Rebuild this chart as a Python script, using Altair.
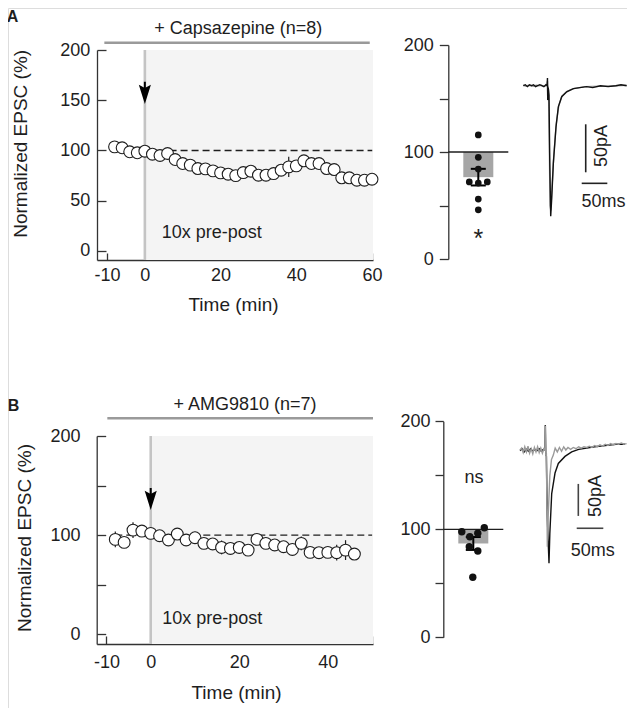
import altair as alt
import pandas as pd
import numpy as np

W, H = 619, 700

# ---------------- data ----------------
# Panel A: time course (+ Capsazepine)
time_a = [-8, -6, -4, -2, 0, 2, 4, 6, 8, 10, 12, 14, 16, 18, 20, 22, 24, 26, 28, 30,
          32, 34, 36, 38, 40, 42, 44, 46, 48, 50, 52, 54, 56, 58, 60]
epsc_a = [103.6, 102.7, 98.7, 97.7, 99.3, 96.3, 95.0, 97.0, 91.0, 87.0, 85.4, 82.0,
          81.7, 79.7, 77.7, 76.4, 75.0, 78.0, 79.4, 75.4, 75.4, 77.0, 80.4, 83.7,
          84.7, 89.7, 87.0, 87.0, 82.0, 81.0, 72.8, 72.8, 70.4, 70.4, 71.4]
sem_a = [3, 3, 3, 3, 2, 3, 3, 3, 3, 3, 3, 3, 3, 3, 3, 3, 3, 3, 3, 3,
         3, 3, 4, 10, 4, 4, 3, 3, 3, 3, 3, 3, 3, 3, 3]

# Panel B: time course (+ AMG9810)
time_b = [-8, -6, -4, -2, 0, 2, 4, 6, 8, 10, 12, 14, 16, 18, 20, 22, 24, 26, 28, 30,
          32, 34, 36, 38, 40, 42, 44, 46]
epsc_b = [95.6, 92.6, 105.0, 104.0, 101.7, 99.3, 95.0, 101.0, 95.0, 97.3, 91.6, 91.0,
          87.5, 86.5, 87.5, 84.8, 95.6, 91.6, 90.0, 88.2, 85.5, 91.6, 82.5, 82.2,
          82.5, 82.2, 84.8, 80.8]
sem_b = [8, 4, 8, 4, 3, 3, 3, 4, 3, 6, 3, 3, 7, 3, 3, 3, 4, 4, 4, 3,
         3, 7, 3, 3, 3, 8, 10, 3]

# Summary dots (individual cells) and their horizontal jitter
cells_a = [116, 95, 84, 72, 71, 72, 56, 46]
jitter_a = [3.0, 3.0, 3.0, 2.1, 3.0, 3.9, 3.0, 3.0]
cells_b = [97.8, 101.5, 96.3, 93.1, 83.9, 79.9, 55.6]
jitter_b = [1.85, 4.1, 3.45, 2.65, 2.6, 3.45, 2.95]

# Example EPSC traces (time in ms, current in pA)
tr_a_gray_t = [0, 5, 10, 15, 20, 25, 30, 35, 40, 45, 47, 47.5, 48, 49, 50.5, 52, 53.5, 56,
               59, 64, 69, 75, 85, 98, 120, 150, 180, 201]
tr_a_gray_i = [0.5, -0.5, 0.5, 0, -0.5, 0.5, 0, 0.5, -0.5, 0, 5, -10, 0, -5, -60, -125, -130,
               -105, -75, -40, -21, -11, -6, -3, -1, -0.5, 0, 0.5]
tr_a_black_t = [0, 4, 8, 12, 16, 20, 24, 28, 32, 36, 40, 44, 46.5, 47, 47.5, 48.5, 50, 51.5,
                53.3, 55, 58.4, 63.6, 68.1, 74.7, 84.4, 97.3, 110, 123, 135, 150, 165, 180,
                190, 201]
tr_a_black_i = [0, 1, -1, 1, 0, 1, -1, 0, 1, 0, -1, 1, 0, 8, -15, -2, -10, -80, -136, -120,
                -81, -43, -22, -11.5, -6.3, -3, -2, -1, -2, 0, -1, 0, 1, 0]

tr_b_black_t = [0, 4, 8, 12, 16, 20, 24, 28, 32, 36, 40, 44, 47, 47.5, 48.3, 49.5, 51, 54.4,
                56, 59.5, 65.7, 71.9, 84.4, 97, 110, 125, 140, 160, 180, 197]
tr_b_black_i = [-1, 2, -3, 1, -2, 2, -2, 1, -1, 2, -2, 1, 0, 39, -5, -10, -100, -177, -130,
                -68, -36, -21, -10, -3, 1, 3, 5, 7, 9, 9]
tr_b_gray_t = [0, 3, 6, 9, 12, 15, 18, 21, 24, 27, 30, 33, 36, 39, 42, 45, 47, 47.6, 48.4,
               49.5, 50.5, 51.3, 53, 56, 59, 62.5, 66, 70, 74, 78, 82, 86, 90, 95, 100, 105,
               110, 115, 120, 125, 130, 135, 140, 145, 150, 155, 160, 165, 170, 175, 180,
               185, 190, 195, 200]
tr_b_gray_i = [0, 3, -4, 5, -3, 6, -5, 2, -6, 4, -3, 5, -4, 3, -5, 2, 0, 38, -8, -5, -90,
               -151, -100, -40, -15, -8, 3, -3, 4, -2, 5, 0, 4, 1, 4, 2, 5, 3, 5, 4, 6, 4,
               7, 5, 8, 6, 9, 7, 10, 8, 10, 9, 11, 9, 10]

FONT = "Liberation Sans"
INK = "#1e1e1e"


def sc(dom, rng):
    return alt.Scale(domain=dom, range=rng, nice=False, zero=False)


def X(field, s, axis=None):
    return alt.X(f"{field}:Q", scale=s, axis=axis)


def Y(field, s, axis=None):
    return alt.Y(f"{field}:Q", scale=s, axis=axis)


def df(**kw):
    return pd.DataFrame(kw)


def text_layer(s_x, s_y, x, y, txt, **mk):
    d = df(x=[x], y=[y], t=[txt])
    return alt.Chart(d).mark_text(font=FONT, color=INK, **mk).encode(
        x=X("x", s_x), y=Y("y", s_y), text="t:N")


ARROW = "M0,1L-0.55,-0.75L0,-0.45L0.55,-0.75Z"

layers = []


def time_panel(times, vals, sems, xs, ys, x_end, ymin, arrow_top, arrow_ctr,
               xaxis, yaxis, title, title_xy, bar_line, letter_xy, letter, label_xy):
    d = df(t=times, v=vals, lo=np.array(vals) - np.array(sems), hi=np.array(vals) + np.array(sems))
    out = []
    out.append(alt.Chart(df(x=[0], x2=[x_end], y=[ymin], y2=[200])).mark_rect(color="#f4f4f4").encode(
        x=X("x", xs), x2="x2:Q", y=Y("y", ys), y2="y2:Q"))
    out.append(alt.Chart(df(x=[0], y=[ymin], y2=[200])).mark_rule(color="#c4c4c4", strokeWidth=2.6).encode(
        x=X("x", xs), y=Y("y", ys), y2="y2:Q"))
    out.append(alt.Chart(df(x=[times[0]], x2=[x_end - 0.2], y=[100])).mark_rule(
        color=INK, strokeWidth=1.3, strokeDash=[7, 4]).encode(x=X("x", xs), x2="x2:Q", y=Y("y", ys)))
    out.append(alt.Chart(d).mark_rule(color=INK, strokeWidth=1.2).encode(
        x=X("t", xs), y=Y("lo", ys), y2="hi:Q"))
    out.append(alt.Chart(d).mark_circle(size=140, fill="white", stroke=INK, strokeWidth=1.1,
                                        opacity=1, fillOpacity=1).encode(
        x=X("t", xs, xaxis), y=Y("v", ys, yaxis)))
    out.append(alt.Chart(df(x=[0], y=[arrow_ctr], y2=[arrow_top])).mark_rule(color="black", strokeWidth=2).encode(
        x=X("x", xs), y=Y("y", ys), y2="y2:Q"))
    out.append(alt.Chart(df(x=[0], y=[arrow_ctr])).mark_point(shape=ARROW, filled=True, color="black",
                                                              size=484, opacity=1).encode(
        x=X("x", xs), y=Y("y", ys)))
    out.append(text_layer(xs, ys, label_xy[0], label_xy[1], "10x pre-post", fontSize=18,
                          align="left", baseline="alphabetic"))
    out.append(text_layer(xs, ys, title_xy[0], title_xy[1], title, fontSize=18,
                          align="center", baseline="alphabetic"))
    out.append(alt.Chart(df(x=[bar_line[0]], x2=[bar_line[1]], y=[bar_line[2]])).mark_rule(
        color="#9a9a9a", strokeWidth=2.6).encode(x=X("x", xs), x2="x2:Q", y=Y("y", ys)))
    out.append(text_layer(xs, ys, letter_xy[0], letter_xy[1], letter, fontSize=16, fontWeight="bold",
                          align="center", baseline="alphabetic"))
    return out


def axis_common(**kw):
    base = dict(grid=False, labelFontSize=18, labelColor=INK, labelFont=FONT,
                domainColor="#333333", tickColor="#333333", domainWidth=1.3, tickWidth=1.3,
                labelOverlap=False, labelFlush=False, titleFontSize=19, titleFont=FONT,
                titleFontWeight="normal", titleColor=INK)
    base.update(kw)
    return alt.Axis(**base)


# ---------------- Panel A: time course ----------------
XA = sc([-12.64, 60.26], [89, 365])
YA = sc([-9, 200], [252, 42])
ax_a_x = axis_common(orient="top", offset=-252, values=list(range(-10, 61, 10)), tickSize=7,
                     labelPadding=-13.7, labelBaseline="top", labelAlign="center",
                     labelExpr="datum.value == -10 ? '-10' : (datum.value % 20 == 0 ? '' + datum.value : '')",
                     title="Time (min)", titleX=225, titleY=35.7, titleBaseline="top",
                     titleAlign="center", titleAngle=0)
ax_a_y = axis_common(orient="right", offset=89 - W, values=[0, 50, 100, 150, 200], tickSize=9,
                     labelPadding=-16.3, labelAlign="right", labelBaseline="middle",
                     title="Normalized EPSC (%)", titleAngle=270, titleX=-77, titleY=135.3,
                     titleAlign="center", titleBaseline="middle")
layers += time_panel(time_a, epsc_a, sem_a, XA, YA, 60.26, -9, 168.4, 157.2, ax_a_x, ax_a_y,
                     "+ Capsazepine (n=8)", (24.68, 216.4), (-10.7, 59.4, 207.2),
                     (-34.96, 228.0), "A", (4.45, 13.0))

# ---------------- Panel B: time course ----------------
XB = sc([-12.2, 50.2], [88.7, 365])
YB = sc([-10, 200], [636, 428])
ax_b_x = axis_common(orient="top", offset=-636, values=list(range(-10, 51, 10)), tickSize=8,
                     labelPadding=-17.7, labelBaseline="top", labelAlign="center",
                     labelExpr="datum.value == -10 ? '-10' : (datum.value % 20 == 0 ? '' + datum.value : '')",
                     title="Time (min)", titleX=228, titleY=39.7, titleBaseline="top",
                     titleAlign="center", titleAngle=0)
ax_b_y = axis_common(orient="right", offset=88.7 - W, values=[0, 50, 100, 150, 200], tickSize=9,
                     labelPadding=-25.7, labelAlign="right", labelBaseline="middle",
                     labelExpr="datum.value % 100 == 0 ? datum.label : ''",
                     title="Normalized EPSC (%)", titleAngle=270, titleX=-72.2, titleY=529.5,
                     titleAlign="center", titleBaseline="middle")
layers += time_panel(time_b, epsc_b, sem_b, XB, YB, 50.2, -10, 147.5, 136.4, ax_b_x, ax_b_y,
                     "+ AMG9810 (n=7)", (21.3, 226.7), (-9.8, 50.2, 217.9),
                     (-30.98, 225.2), "B", (2.59, 10.6))


# ---------------- Summary bar panels ----------------
def bar_panel(cells, jit, xs, ys, yaxis, mark_txt, mark_xy, mark_size, dot_size):
    vals = np.array(cells, dtype=float)
    m = float(vals.mean())
    se = float(vals.std(ddof=1) / np.sqrt(len(vals)))
    out = []
    out.append(alt.Chart(df(x=[3.0], m=[m], b=[100])).mark_bar(size=30, color="#a6a6a6").encode(
        x=X("x", xs), y=Y("m", ys), y2="b:Q"))
    out.append(alt.Chart(df(x=[0], x2=[6], y=[100])).mark_rule(color=INK, strokeWidth=1.3).encode(
        x=X("x", xs), x2="x2:Q", y=Y("y", ys)))
    out.append(alt.Chart(df(x=[3.0], lo=[m - se], hi=[m + se])).mark_rule(color="black", strokeWidth=2).encode(
        x=X("x", xs), y=Y("lo", ys), y2="hi:Q"))
    out.append(alt.Chart(df(x=[3.0, 3.0], y=[m - se, m + se])).mark_tick(
        orient="horizontal", size=15, thickness=2, color="black", opacity=1).encode(
        x=X("x", xs), y=Y("y", ys)))
    out.append(alt.Chart(df(x=jit, v=cells)).mark_circle(size=dot_size, color="#111111", opacity=1).encode(
        x=X("x", xs), y=Y("v", ys, yaxis)))
    out.append(text_layer(xs, ys, mark_xy[0], mark_xy[1], mark_txt, fontSize=mark_size,
                          align="center", baseline="alphabetic"))
    return out


XBA = sc([0, 6], [440.3, 500.3])
YBA = sc([0, 200], [251, 37])
ax_ba = axis_common(orient="left", offset=-440.3, values=[0, 50, 100, 150, 200], tickSize=9,
                    labelPadding=6, labelExpr="datum.value % 100 == 0 ? datum.label : ''", title=None)
layers += bar_panel(cells_a, jitter_a, XBA, YBA, ax_ba, "*", (3.0, 11.5), 25, 45)

XBB = sc([0, 6], [435.3, 495.3])
YBB = sc([0, 200], [629.3, 413.3])
ax_bb = axis_common(orient="left", offset=-435.3, values=[0, 50, 100, 150, 200], tickSize=8.3,
                    labelPadding=5, labelExpr="datum.value % 100 == 0 ? datum.label : ''", title=None)
layers += bar_panel(cells_b, jitter_b, XBB, YBB, ax_bb, "ns", (3.07, 143.1), 18, 55)


# ---------------- Example traces ----------------
def trace_panel(first, second, xs, ys, vbar, hbar, pa_xy, ms_xy, bar_color):
    out = []
    for (t, i, col) in (first, second):
        out.append(alt.Chart(df(t=t, i=i)).mark_line(color=col, strokeWidth=1.4).encode(
            x=X("t", xs), y=Y("i", ys)))
    out.append(alt.Chart(df(x=[vbar[0]], y=[vbar[1]], y2=[vbar[2]])).mark_rule(
        color=bar_color, strokeWidth=1.6).encode(x=X("x", xs), y=Y("y", ys), y2="y2:Q"))
    out.append(alt.Chart(df(x=[hbar[0]], x2=[hbar[1]], y=[hbar[2]])).mark_rule(
        color=bar_color, strokeWidth=1.6).encode(x=X("x", xs), x2="x2:Q", y=Y("y", ys)))
    out.append(text_layer(xs, ys, pa_xy[0], pa_xy[1], "50pA", fontSize=18, angle=270,
                          align="center", baseline="middle"))
    out.append(text_layer(xs, ys, ms_xy[0], ms_xy[1], "50ms", fontSize=18,
                          align="center", baseline="middle"))
    return out


XTA = sc([0, 205], [515.3, 620.7])
YTA = sc([-150, 20], [221.7, 58.5])
layers += trace_panel((tr_a_gray_t, tr_a_gray_i, "#9a9a9a"), (tr_a_black_t, tr_a_black_i, "#111111"),
                      XTA, YTA, (121.4, -40.2, -90.2), (113.6, 163.4, -101.7),
                      (154, -62.8), (156, -120.8), "#222222")

XTB = sc([0, 200], [512, 618.6])
YTB = sc([-200, 50], [570, 410])
layers += trace_panel((tr_b_black_t, tr_b_black_i, "#111111"), (tr_b_gray_t, tr_b_gray_i, "#9a9a9a"),
                      XTB, YTB, (109.4, -53, -103), (106.4, 156.3, -122.3),
                      (143.3, -71.9), (136.6, -157.8), "#444444")

chart = alt.layer(*layers).resolve_scale(x="independent", y="independent").properties(
    width=W, height=H, autosize=alt.AutoSizeParams(type="none"), padding=0
).configure_view(stroke=None).configure(font=FONT, background="white")

chart.save("out.html", embed_options={"renderer": "svg", "actions": False})
